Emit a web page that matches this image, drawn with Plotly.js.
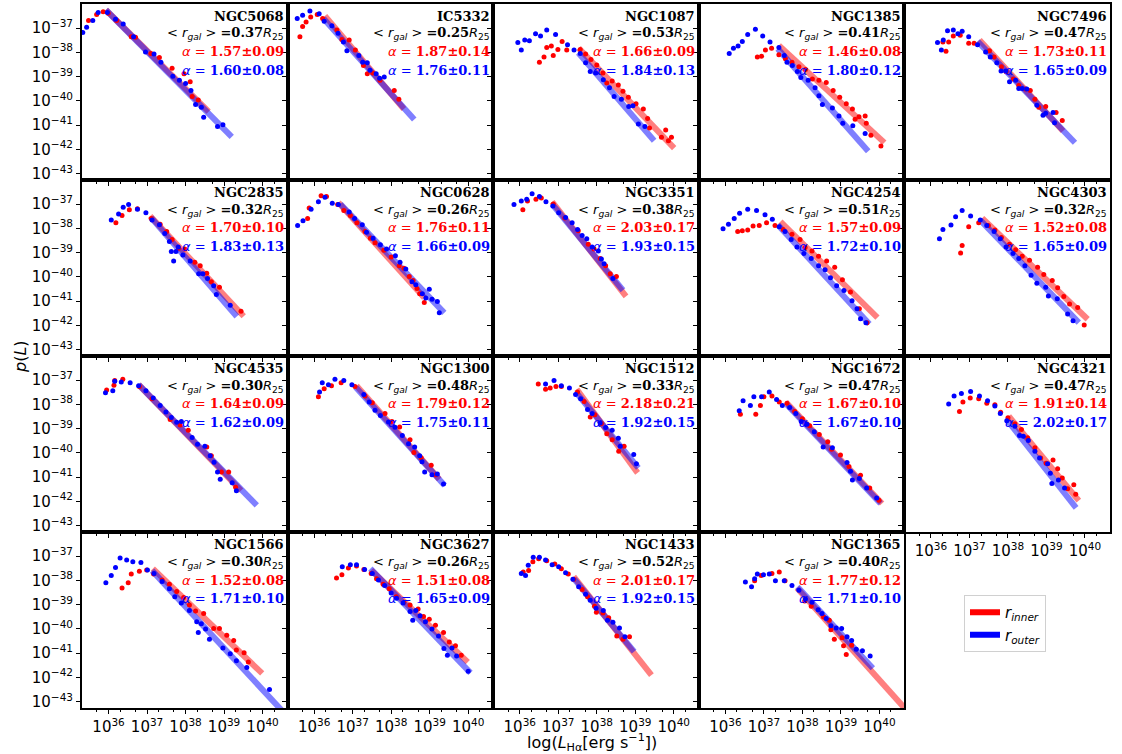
<!DOCTYPE html>
<html><head><meta charset="utf-8">
<script src="https://cdn.plot.ly/plotly-3.0.1.min.js"></script>
<style>html,body{margin:0;padding:0;background:#fff}</style>
</head><body>
<div id="chart" style="width:1122px;height:754px"></div>
<script>
// ---------------- DATA (log10 L [erg/s], log10 p(L)) ----------------
const galaxies = ["NGC5068","IC5332","NGC1087","NGC1385","NGC7496","NGC2835","NGC0628","NGC3351","NGC4254","NGC4303","NGC4535","NGC1300","NGC1512","NGC1672","NGC4321","NGC1566","NGC3627","NGC1433","NGC1365"];
const rgal = ["0.37","0.25","0.53","0.41","0.47","0.32","0.26","0.38","0.51","0.32","0.30","0.48","0.33","0.47","0.47","0.30","0.26","0.52","0.40"];
const alphaIn = [1.57,1.87,1.66,1.46,1.73,1.70,1.76,2.03,1.57,1.52,1.64,1.79,2.18,1.67,1.91,1.52,1.51,2.01,1.77];
const alphaInErr = [0.09,0.14,0.09,0.08,0.11,0.10,0.11,0.17,0.09,0.08,0.09,0.12,0.21,0.10,0.14,0.08,0.08,0.17,0.12];
const alphaOut = [1.60,1.76,1.84,1.80,1.65,1.83,1.66,1.93,1.72,1.65,1.62,1.75,1.92,1.67,2.02,1.71,1.65,1.92,1.71];
const alphaOutErr = [0.08,0.11,0.13,0.12,0.09,0.13,0.09,0.15,0.10,0.09,0.09,0.11,0.15,0.10,0.17,0.10,0.09,0.15,0.10];

// power-law fit ranges (log L start / end) and log p at start
const fitInL0 = [35.93,36.28,37.53,37.39,37.26,37.08,36.63,36.84,37.43,37.33,36.78,37.10,37.48,37.57,38.02,37.15,37.48,37.40,37.86];
const fitInL1 = [38.60,38.33,40.01,40.13,39.43,39.51,38.86,38.76,39.95,40.07,39.44,39.25,39.06,40.07,39.84,39.99,39.99,39.42,40.80];
const fitInP0 = [-36.25,-36.50,-37.83,-37.72,-37.49,-37.49,-36.94,-36.91,-37.72,-37.58,-37.19,-37.24,-37.38,-37.91,-38.49,-37.52,-37.58,-37.85,-38.32];
const fitOutL0 = [35.93,36.24,37.52,37.36,37.21,37.10,36.68,36.84,37.36,37.28,36.78,37.08,37.45,37.60,37.97,37.13,37.46,37.41,37.87];
const fitOutL1 = [39.20,38.60,39.49,39.71,39.74,39.33,39.38,38.68,39.74,39.84,39.85,39.39,39.08,40.03,39.77,40.50,40.06,38.97,39.83];
const fitOutP0 = [-36.25,-36.61,-38.02,-37.85,-37.55,-37.55,-37.00,-37.00,-37.85,-37.66,-37.19,-37.30,-37.49,-38.02,-38.63,-37.60,-37.52,-37.94,-38.27];

const NGC5068_outL = [35.33,35.43,35.59,35.73,35.97,36.18,36.38,36.65,36.96,37.18,37.36,37.67,37.84,38.00,38.14,38.26,38.41,38.47,38.83,38.97];
const NGC5068_outP = [-37.18,-36.97,-36.69,-36.36,-36.36,-36.64,-36.83,-37.36,-37.99,-38.07,-38.41,-38.99,-39.15,-39.29,-39.57,-40.15,-40.26,-40.67,-41.06,-40.98];
const NGC5068_inL = [35.48,35.69,35.86,35.99,36.21,36.59,36.70,37.10,37.32,37.65,37.96,38.12,38.17,38.33];
const NGC5068_inP = [-36.69,-36.44,-36.33,-36.39,-36.69,-37.36,-37.38,-38.05,-38.21,-38.66,-38.88,-39.21,-39.82,-39.96];

const IC5332_outL = [35.56,35.70,35.89,36.13,36.26,36.46,36.62,36.76,36.85,37.16,37.26,37.38,37.45,37.61,37.70,37.82];
const IC5332_outP = [-36.61,-36.47,-36.30,-36.41,-36.72,-36.91,-37.22,-37.58,-37.94,-38.13,-38.41,-38.43,-38.74,-38.88,-39.07,-39.02];
const IC5332_inL = [35.63,35.70,35.79,35.91,36.08,36.22,36.59,36.72,36.91,37.07,37.28,37.38,37.52,37.71,38.08,38.20];
const IC5332_inP = [-37.36,-36.94,-36.75,-36.55,-36.44,-36.61,-37.08,-37.47,-37.49,-37.91,-38.54,-38.88,-38.85,-39.15,-39.57,-39.93];

const NGC1087_outL = [35.95,36.04,36.13,36.25,36.41,36.54,36.70,36.93,37.24,37.41,37.57,37.71,37.83,37.97,38.17,38.33,38.45,38.64,38.83,38.94,39.08,39.25];
const NGC1087_outP = [-37.60,-37.91,-37.49,-37.52,-37.24,-37.33,-37.08,-37.27,-37.69,-37.91,-38.05,-38.43,-38.79,-38.85,-39.13,-39.46,-39.82,-39.93,-40.23,-40.20,-40.95,-41.06];
const NGC1087_inL = [36.51,36.63,36.70,36.82,36.87,36.99,37.10,37.22,37.57,37.71,37.85,38.00,38.16,38.26,38.40,38.56,38.68,38.82,39.02,39.21,39.32,39.37,39.68,39.79,39.86,39.94];
const NGC1087_inP = [-38.41,-38.19,-37.80,-37.74,-38.13,-37.88,-37.55,-37.91,-37.88,-38.07,-38.30,-38.52,-38.85,-39.26,-39.18,-39.35,-39.60,-39.85,-40.12,-40.34,-40.73,-41.12,-41.50,-41.20,-41.64,-41.50];

const NGC1385_outL = [36.10,36.21,36.33,36.44,36.58,36.78,36.97,37.16,37.39,37.53,37.60,37.74,37.87,37.96,38.15,38.33,38.43,38.52,38.78,38.95,39.05,39.31,39.63];
const NGC1385_outP = [-38.05,-37.83,-37.74,-37.55,-37.27,-37.05,-37.33,-37.58,-37.80,-38.13,-38.41,-38.54,-38.79,-39.04,-39.15,-39.46,-39.79,-40.15,-40.29,-40.62,-40.92,-41.03,-41.34];
const NGC1385_inL = [36.83,36.94,37.04,37.20,37.39,37.56,37.73,37.91,38.08,38.26,38.43,38.62,38.80,38.97,39.14,39.30,39.37,39.47,39.63,39.66,39.78,40.04];
const NGC1385_inP = [-38.19,-38.16,-37.91,-37.83,-38.10,-38.27,-38.41,-38.60,-38.71,-39.10,-39.15,-39.24,-39.57,-39.85,-40.12,-40.34,-40.76,-40.65,-40.62,-40.92,-41.42,-41.86];

const NGC7496_outL = [36.17,36.27,36.32,36.43,36.58,36.70,36.81,36.98,37.21,37.42,37.54,37.71,37.82,37.94,38.04,38.20,38.28,38.37,38.49,38.75,38.91,38.98,39.17,39.21];
const NGC7496_outP = [-37.60,-37.91,-37.49,-37.11,-37.08,-37.24,-37.13,-37.36,-37.69,-37.99,-38.19,-38.43,-38.77,-38.77,-39.21,-39.15,-39.49,-39.49,-39.51,-40.18,-40.59,-40.51,-40.48,-40.90];
const NGC7496_inL = [36.31,36.39,36.46,36.58,36.76,36.98,37.12,37.52,37.64,37.83,37.95,38.14,38.28,38.46,38.58,38.70,38.80,38.98,39.25,39.41];
const NGC7496_inP = [-37.58,-37.96,-37.58,-37.33,-37.30,-37.63,-37.63,-37.94,-38.19,-38.60,-38.79,-39.10,-39.37,-39.51,-39.57,-39.93,-40.26,-40.23,-40.48,-40.81];

const NGC2835_outL = [36.07,36.26,36.38,36.52,36.75,36.97,37.13,37.32,37.46,37.58,37.63,37.69,37.75,37.81,37.93,38.12,38.34,38.45,38.57,38.73,38.80,39.16];
const NGC2835_outP = [-37.66,-37.41,-37.13,-37.02,-37.22,-37.36,-37.66,-37.85,-38.21,-38.54,-38.96,-39.35,-38.96,-38.77,-39.10,-39.35,-39.87,-39.87,-40.07,-40.37,-40.73,-41.17];
const NGC2835_inL = [36.19,36.35,36.54,36.75,37.11,37.34,37.51,37.65,37.82,37.98,38.24,38.38,38.55,38.67,38.88,39.44];
const NGC2835_inP = [-37.77,-37.47,-37.24,-37.19,-37.60,-37.83,-38.13,-38.46,-38.82,-38.85,-39.40,-39.54,-39.85,-40.20,-40.43,-41.42];

const NGC0628_outL = [35.57,35.71,35.92,36.11,36.28,36.47,36.63,36.91,37.05,37.25,37.36,37.53,37.72,37.88,38.11,38.23,38.38,38.54,38.64,38.81,38.90,38.99,39.06,39.20,39.25];
const NGC0628_outP = [-37.88,-37.69,-37.22,-36.91,-36.72,-36.97,-37.02,-37.33,-37.60,-37.85,-38.16,-38.41,-38.68,-38.85,-39.13,-39.40,-39.68,-40.20,-40.32,-40.70,-40.87,-40.51,-40.92,-41.01,-41.48];
const NGC0628_inL = [35.83,35.87,36.18,36.32,36.61,36.77,36.94,37.11,37.32,37.46,37.58,37.81,38.00,38.21,38.33,38.47,38.57,38.67,38.74,38.86];
const NGC0628_inP = [-37.60,-37.16,-36.66,-36.69,-37.02,-37.27,-37.47,-37.77,-38.13,-38.41,-38.60,-38.90,-39.18,-39.54,-39.65,-39.98,-40.15,-40.48,-40.70,-41.06];

const NGC3351_outL = [35.85,36.04,36.18,36.32,36.51,36.68,36.86,37.01,37.19,37.36,37.50,37.62,37.74,37.88,38.04,38.12,38.19,38.42];
const NGC3351_outP = [-37.02,-36.88,-36.80,-36.58,-36.69,-36.91,-37.08,-37.36,-37.55,-37.77,-38.05,-38.30,-38.43,-38.77,-38.93,-39.26,-39.46,-40.07];
const NGC3351_inL = [36.08,36.20,36.42,36.56,36.87,37.17,37.52,37.78,37.93,38.09,38.23,38.35,38.51];
const NGC3351_inP = [-37.24,-36.88,-36.80,-36.75,-37.00,-37.58,-38.10,-38.66,-38.85,-39.24,-39.54,-39.87,-39.98];

const NGC4254_outL = [35.94,36.08,36.23,36.37,36.58,36.81,37.03,37.22,37.40,37.55,37.71,37.86,38.04,38.23,38.42,38.59,38.73,38.89,39.08,39.29,39.42,39.51,39.65];
const NGC4254_outP = [-38.02,-37.83,-37.60,-37.38,-37.22,-37.27,-37.44,-37.63,-37.94,-38.13,-38.46,-38.77,-39.04,-39.24,-39.54,-39.71,-40.04,-40.37,-40.56,-40.98,-41.31,-41.73,-41.89];
const NGC4254_inL = [36.32,36.44,36.58,36.72,36.88,37.07,37.29,37.50,37.73,37.94,38.07,38.25,38.42,38.63,38.84,39.04,39.25,39.48,39.68];
const NGC4254_inP = [-38.13,-38.10,-38.07,-37.91,-37.88,-37.77,-37.88,-38.05,-38.24,-38.46,-38.79,-38.93,-39.15,-39.35,-39.60,-40.12,-40.62,-41.31,-41.89];

const NGC4303_outL = [36.22,36.31,36.52,36.64,36.81,37.03,37.28,37.45,37.64,37.80,37.95,38.13,38.28,38.44,38.60,38.75,38.98,39.05,39.28,39.55,39.69];
const NGC4303_outP = [-38.43,-38.05,-37.86,-37.52,-37.27,-37.49,-37.66,-37.88,-38.13,-38.43,-38.77,-39.04,-39.24,-39.54,-39.93,-40.26,-40.43,-40.79,-40.90,-41.53,-41.81];
const NGC4303_inL = [36.77,36.81,36.98,37.24,37.49,37.66,37.83,38.04,38.20,38.37,38.56,38.77,38.93,39.15,39.29,39.45,39.60,39.81,39.98];
const NGC4303_inP = [-39.02,-38.71,-37.94,-37.77,-37.88,-38.07,-38.38,-38.66,-38.88,-39.15,-39.32,-39.60,-39.90,-40.15,-40.45,-40.81,-41.12,-41.26,-41.98];

const NGC4535_outL = [35.92,36.11,36.16,36.33,36.56,36.78,36.97,37.16,37.34,37.49,37.63,37.77,37.89,38.17,38.31,38.50,38.64,38.74,38.83,38.90,39.21,39.32];
const NGC4535_outP = [-37.52,-37.44,-37.05,-37.08,-37.11,-37.24,-37.44,-37.74,-38.05,-38.32,-38.54,-38.74,-38.71,-39.37,-39.65,-39.73,-40.12,-40.39,-40.79,-41.09,-41.23,-41.56];
const NGC4535_inL = [35.95,36.14,36.16,36.37,36.80,37.13,37.60,37.86,38.07,38.55,38.67,38.93,39.12,39.30];
const NGC4535_inP = [-37.41,-37.22,-37.02,-36.97,-37.27,-37.77,-38.63,-38.85,-39.07,-39.76,-40.12,-40.79,-40.79,-41.42];

const NGC1300_outL = [36.14,36.21,36.37,36.54,36.77,36.98,37.29,37.43,37.58,37.72,37.93,38.10,38.29,38.45,38.61,38.74,38.80,38.87,39.06,39.20,39.36];
const NGC1300_outP = [-37.49,-37.11,-37.19,-36.97,-37.02,-37.19,-37.60,-37.91,-38.24,-38.46,-38.73,-38.95,-39.28,-39.62,-39.76,-40.12,-40.37,-40.79,-40.90,-40.87,-41.28];
const NGC1300_inL = [36.11,36.26,36.45,36.70,37.06,37.32,37.51,37.84,38.02,38.22,38.49,38.59,38.78,39.04,39.16];
const NGC1300_inP = [-37.69,-37.36,-37.24,-37.11,-37.27,-37.66,-37.94,-38.38,-38.71,-38.93,-39.46,-39.98,-40.20,-40.51,-40.90];

const NGC1512_outL = [36.67,36.89,37.08,37.29,37.45,37.58,37.76,37.88,38.09,38.23,38.40,38.56,38.61,38.96,39.03];
const NGC1512_outP = [-37.16,-37.02,-37.24,-37.33,-37.60,-37.77,-38.21,-38.38,-38.77,-38.96,-39.07,-39.40,-39.73,-40.07,-40.45];
const NGC1512_inL = [36.48,36.67,36.79,36.94,37.08,37.50,37.67,37.83,37.95,38.12,38.26,38.40,38.57,38.71];
const NGC1512_inP = [-37.16,-37.38,-37.33,-37.27,-37.27,-37.49,-37.88,-38.52,-38.43,-38.79,-39.21,-39.46,-39.93,-39.73];

const NGC1672_outL = [36.36,36.46,36.65,36.74,36.94,37.14,37.33,37.48,37.67,37.83,37.97,38.12,38.31,38.54,38.78,39.16,39.25,39.30,39.48,39.67,39.93];
const NGC1672_outP = [-38.27,-37.85,-38.05,-37.69,-37.69,-37.49,-37.80,-38.05,-38.13,-38.38,-38.71,-38.82,-39.13,-39.76,-39.79,-40.40,-40.76,-41.12,-41.06,-41.45,-41.86];
const NGC1672_inL = [36.39,36.79,36.91,37.00,37.21,37.40,37.60,37.80,38.00,38.19,38.44,38.66,38.76,38.99,39.21,39.51,39.75,39.99];
const NGC1672_inP = [-38.41,-38.41,-38.05,-37.69,-37.66,-37.91,-37.96,-38.30,-38.60,-38.88,-39.24,-39.54,-39.85,-40.09,-40.56,-40.92,-41.45,-41.95];

const NGC4321_outL = [36.46,36.60,36.79,37.03,37.26,37.47,37.66,37.80,37.97,38.18,38.30,38.40,38.53,38.70,38.82,39.03,39.10,39.14,39.31,39.47];
const NGC4321_outP = [-37.99,-37.66,-37.55,-37.47,-37.66,-37.85,-38.07,-38.38,-38.68,-38.90,-39.29,-39.32,-39.49,-39.93,-40.21,-40.45,-40.84,-41.26,-41.12,-41.45];
const NGC4321_inL = [36.74,36.83,37.02,37.24,37.45,37.66,37.81,38.00,38.18,38.35,38.51,38.70,38.85,38.99,39.17,39.29,39.41,39.55,39.71,39.76];
const NGC4321_inP = [-38.30,-37.91,-37.74,-37.77,-37.96,-38.02,-38.33,-38.55,-38.80,-39.04,-39.38,-39.79,-40.21,-40.43,-40.29,-40.65,-41.04,-41.48,-41.31,-41.70];

const NGC1566_outL = [35.93,36.07,36.18,36.30,36.47,36.63,36.84,37.01,37.18,37.39,37.58,37.72,37.89,38.10,38.29,38.33,38.41,38.52,38.62,38.97,39.16,39.32,39.59,40.18];
const NGC1566_outP = [-38.10,-37.80,-37.47,-37.08,-37.16,-37.24,-37.27,-37.58,-37.72,-38.05,-38.35,-38.68,-38.93,-39.24,-39.71,-40.15,-39.79,-40.01,-40.43,-40.79,-41.03,-41.31,-41.59,-42.50];
const NGC1566_inL = [36.35,36.51,36.59,36.80,36.99,37.17,37.39,37.58,37.77,37.95,38.10,38.26,38.47,38.73,38.88,39.07,39.25,39.32,39.52,39.63];
const NGC1566_inP = [-38.32,-38.10,-37.74,-37.63,-37.58,-37.74,-37.99,-38.16,-38.46,-38.71,-39.02,-39.26,-39.37,-39.98,-39.98,-40.26,-40.48,-40.87,-40.98,-41.37];

const NGC3627_outL = [36.73,36.94,37.10,37.31,37.51,37.67,37.83,38.00,38.14,38.31,38.49,38.56,38.64,38.75,38.89,39.06,39.23,39.37,39.46,39.58,39.70,40.00];
const NGC3627_outP = [-37.44,-37.36,-37.36,-37.55,-37.72,-37.99,-38.21,-38.52,-38.74,-38.93,-39.29,-39.65,-39.24,-39.46,-39.71,-40.01,-40.29,-40.81,-41.09,-40.79,-41.12,-41.75];
const NGC3627_inL = [36.58,36.72,36.89,37.10,37.29,37.48,37.62,37.79,37.95,38.13,38.33,38.49,38.70,38.84,38.99,39.15,39.36,39.51,39.67,39.82];
const NGC3627_inP = [-37.91,-37.77,-37.49,-37.41,-37.55,-37.72,-37.94,-38.16,-38.35,-38.68,-38.90,-39.02,-39.18,-39.49,-39.60,-39.85,-40.15,-40.54,-40.70,-41.09];

const NGC1433_outL = [36.04,36.15,36.22,36.35,36.51,36.67,36.84,37.01,37.19,37.38,37.53,37.71,37.83,37.98,38.17,38.28,38.42,38.59,38.73];
const NGC1433_outP = [-37.72,-37.80,-37.38,-37.05,-37.05,-37.16,-37.36,-37.44,-37.69,-37.96,-38.27,-38.57,-38.82,-39.15,-39.24,-39.65,-39.73,-39.96,-40.32];
const NGC1433_inL = [36.09,36.23,36.34,36.49,36.70,36.91,37.08,37.26,37.40,37.62,37.76,37.94,37.99,38.16,38.31,38.52,38.68,38.85];
const NGC1433_inP = [-37.66,-37.60,-37.24,-37.11,-37.19,-37.33,-37.52,-37.74,-37.96,-38.38,-38.68,-39.07,-39.32,-39.35,-39.54,-40.29,-40.43,-40.32];

const NGC1365_outL = [36.52,36.68,36.76,36.83,36.99,37.14,37.30,37.53,37.73,37.91,38.08,38.25,38.41,38.51,38.62,38.74,38.88,39.02,39.16,39.28,39.40,39.56,39.76];
const NGC1365_outP = [-38.07,-38.27,-37.94,-37.74,-37.77,-37.74,-38.02,-38.02,-38.21,-38.41,-38.77,-38.90,-39.21,-39.37,-39.57,-39.87,-39.96,-39.98,-40.32,-40.48,-40.84,-40.90,-41.12];
const NGC1365_inL = [36.76,36.93,37.21,37.40,37.55,38.06,38.23,38.55,38.70,38.74,38.83,39.03,39.07,39.14,39.28];
const NGC1365_inP = [-38.02,-37.80,-37.72,-37.66,-38.02,-38.85,-39.07,-39.51,-39.65,-40.04,-40.43,-40.37,-40.70,-41.06,-40.67];

const xTickExp = [36,37,38,39,40];
const yTickExp = [-43,-42,-41,-40,-39,-38,-37];
const xLogRange = [35.31, 40.65];
const yLogRange = [-43.26, -36.01];

// table built from the arrays above
const panels = [
  [NGC5068_inL,NGC5068_inP,NGC5068_outL,NGC5068_outP],
  [IC5332_inL,IC5332_inP,IC5332_outL,IC5332_outP],
  [NGC1087_inL,NGC1087_inP,NGC1087_outL,NGC1087_outP],
  [NGC1385_inL,NGC1385_inP,NGC1385_outL,NGC1385_outP],
  [NGC7496_inL,NGC7496_inP,NGC7496_outL,NGC7496_outP],
  [NGC2835_inL,NGC2835_inP,NGC2835_outL,NGC2835_outP],
  [NGC0628_inL,NGC0628_inP,NGC0628_outL,NGC0628_outP],
  [NGC3351_inL,NGC3351_inP,NGC3351_outL,NGC3351_outP],
  [NGC4254_inL,NGC4254_inP,NGC4254_outL,NGC4254_outP],
  [NGC4303_inL,NGC4303_inP,NGC4303_outL,NGC4303_outP],
  [NGC4535_inL,NGC4535_inP,NGC4535_outL,NGC4535_outP],
  [NGC1300_inL,NGC1300_inP,NGC1300_outL,NGC1300_outP],
  [NGC1512_inL,NGC1512_inP,NGC1512_outL,NGC1512_outP],
  [NGC1672_inL,NGC1672_inP,NGC1672_outL,NGC1672_outP],
  [NGC4321_inL,NGC4321_inP,NGC4321_outL,NGC4321_outP],
  [NGC1566_inL,NGC1566_inP,NGC1566_outL,NGC1566_outP],
  [NGC3627_inL,NGC3627_inP,NGC3627_outL,NGC3627_outP],
  [NGC1433_inL,NGC1433_inP,NGC1433_outL,NGC1433_outP],
  [NGC1365_inL,NGC1365_inP,NGC1365_outL,NGC1365_outP]
];

// ---------------- LAYOUT ----------------
const ML = 82, MR = 12, MT = 4, MB = 46;
const PW = 1122 - ML - MR, PH = 754 - MT - MB;
const NC = 5, NR = 4;
const pow10 = a => a.map(v => Math.pow(10, v));
const RED = 'rgb(255,0,0)', BLUE = 'rgb(0,0,255)';
const REDA = 'rgba(255,0,0,0.5)', BLUEA = 'rgba(0,0,255,0.5)';

const traces = [];
const layout = {
  width: 1122, height: 754,
  margin: {l: ML, r: MR, t: MT, b: MB, pad: 0},
  paper_bgcolor: 'white', plot_bgcolor: 'white',
  font: {family: 'DejaVu Sans', size: 14, color: 'black'},
  showlegend: true,
  legend: {
    x: (964 - ML) / PW, y: 1 - (595 - MT) / PH, xanchor: 'left', yanchor: 'top',
    bgcolor: 'white', bordercolor: '#d0d0d0', borderwidth: 1,
    font: {family: 'DejaVu Sans', size: 15, color: 'black'},
    itemwidth: 30, tracegroupgap: 2
  },
  annotations: [],
  hovermode: false
};

galaxies.forEach((g, i) => {
  const r = Math.floor(i / NC), c = i % NC;
  const xid = i === 0 ? 'x' : 'x' + (i + 1);
  const yid = i === 0 ? 'y' : 'y' + (i + 1);
  const xkey = i === 0 ? 'xaxis' : 'xaxis' + (i + 1);
  const ykey = i === 0 ? 'yaxis' : 'yaxis' + (i + 1);
  const showXLab = (r === NR - 1) || (i === 14);
  const showYLab = (c === 0);
  layout[xkey] = {
    domain: [c / NC, (c + 1) / NC], anchor: yid, type: 'log', range: xLogRange,
    tickmode: 'array', tickvals: pow10(xTickExp), ticktext: xTickExp.map(e => '10<sup>' + e + '</sup>'),
    showticklabels: showXLab, ticks: 'outside', ticklen: 4, tickwidth: 1, tickcolor: 'black',
    minor: {ticks: 'outside', ticklen: 2, tickwidth: 1, tickcolor: 'black', showgrid: false},
    showline: true, linecolor: 'black', linewidth: 2, mirror: true,
    showgrid: false, zeroline: false, fixedrange: true,
    tickfont: {family: 'DejaVu Sans', size: 15, color: 'black'}
  };
  layout[ykey] = {
    domain: [1 - (r + 1) / NR, 1 - r / NR], anchor: xid, type: 'log', range: yLogRange,
    tickmode: 'array', tickvals: pow10(yTickExp), ticktext: yTickExp.map(e => '10<sup>\u2212' + Math.abs(e) + '</sup>'),
    showticklabels: showYLab, ticks: 'outside', ticklen: 4, tickwidth: 1, tickcolor: 'black',
    showline: true, linecolor: 'black', linewidth: 2, mirror: true,
    showgrid: false, zeroline: false, fixedrange: true,
    tickfont: {family: 'DejaVu Sans', size: 15, color: 'black'}
  };
  const [inL, inP, outL, outP] = panels[i];
  // fit lines: p ∝ L^-alpha
  const inP1 = fitInP0[i] - alphaIn[i] * (fitInL1[i] - fitInL0[i]);
  const outP1 = fitOutP0[i] - alphaOut[i] * (fitOutL1[i] - fitOutL0[i]);
  traces.push({x: pow10([fitInL0[i], fitInL1[i]]), y: pow10([fitInP0[i], inP1]), xaxis: xid, yaxis: yid,
    mode: 'lines', line: {color: REDA, width: 6}, showlegend: false});
  traces.push({x: pow10([fitOutL0[i], fitOutL1[i]]), y: pow10([fitOutP0[i], outP1]), xaxis: xid, yaxis: yid,
    mode: 'lines', line: {color: BLUEA, width: 6}, showlegend: false});
  traces.push({x: pow10(inL), y: pow10(inP), xaxis: xid, yaxis: yid, mode: 'markers',
    marker: {color: RED, size: 5, symbol: 'circle', line: {width: 0}}, showlegend: false, cliponaxis: true});
  traces.push({x: pow10(outL), y: pow10(outP), xaxis: xid, yaxis: yid, mode: 'markers',
    marker: {color: BLUE, size: 5, symbol: 'circle', line: {width: 0}}, showlegend: false, cliponaxis: true});

  // text block
  const xr = (c + 1) / NC - 1.5 / PW;
  const top = 1 - r / NR;
  const yAt = px => top - px / PH;
  const SANS = "font-family:DejaVu Sans";
  const base = {xref: 'paper', yref: 'paper', x: xr, xanchor: 'right', yanchor: 'middle', showarrow: false, align: 'right'};
  layout.annotations.push(Object.assign({}, base, {y: yAt(12), text: '<b>' + g + '</b>',
    font: {family: 'DejaVu Serif', size: 13, color: 'black'}}));
  layout.annotations.push(Object.assign({}, base, {y: yAt(30),
    text: '<span style="' + SANS + '">&lt; <i>r</i><sub><i>gal</i></sub> &gt;</span> <b>=' + rgal[i] + '</b><span style="' + SANS + '"><i>R</i><sub>25</sub></span>',
    font: {family: 'DejaVu Serif', size: 13, color: 'black'}}));
  layout.annotations.push(Object.assign({}, base, {y: yAt(48),
    text: '<span style="' + SANS + '"><i>α</i> = </span><b>' + alphaIn[i].toFixed(2) + '±' + alphaInErr[i].toFixed(2) + '</b>',
    font: {family: 'DejaVu Serif', size: 13, color: RED}}));
  layout.annotations.push(Object.assign({}, base, {y: yAt(66),
    text: '<span style="' + SANS + '"><i>α</i> = </span><b>' + alphaOut[i].toFixed(2) + '±' + alphaOutErr[i].toFixed(2) + '</b>',
    font: {family: 'DejaVu Serif', size: 13, color: BLUE}}));
});

// legend entries
traces.push({x: [null], y: [null], xaxis: 'x', yaxis: 'y', mode: 'lines', line: {color: RED, width: 6},
  name: '<i>r</i><sub><i>inner</i></sub>', showlegend: true});
traces.push({x: [null], y: [null], xaxis: 'x', yaxis: 'y', mode: 'lines', line: {color: BLUE, width: 6},
  name: '<i>r</i><sub><i>outer</i></sub>', showlegend: true});

// axis titles
layout.annotations.push({xref: 'paper', yref: 'paper', x: (592 - ML) / PW, y: -(742 - (MT + PH)) / PH,
  xanchor: 'center', yanchor: 'middle', showarrow: false,
  text: 'log(<i>L</i><sub>Hα</sub>[erg s<sup>−1</sup>])', font: {family: 'DejaVu Sans', size: 16, color: 'black'}});
layout.annotations.push({xref: 'paper', yref: 'paper', x: (20 - ML) / PW, y: 1 - (357 - MT) / PH,
  xanchor: 'center', yanchor: 'middle', showarrow: false, textangle: -90,
  text: '<i>p</i>(<i>L</i>)', font: {family: 'DejaVu Sans', size: 16, color: 'black'}});

Plotly.newPlot('chart', traces, layout, {staticPlot: true, displayModeBar: false});
</script>
</body></html>
